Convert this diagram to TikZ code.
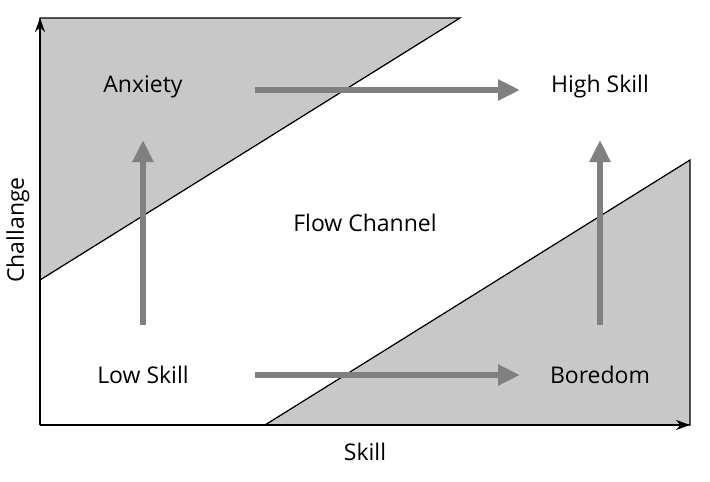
\documentclass[tikz,border=0pt]{standalone}
\usepackage{fontspec}
\setmainfont{Open Sans}
\usetikzlibrary{arrows.meta}
\begin{document}
\begin{tikzpicture}[x=1pt,y=-1pt,
  lbl/.style={font=\fontsize{23}{26}\selectfont},
  garrow/.style={draw={rgb,255:red,128;green,128;blue,128},line width=6,-{Triangle[length=22,width=20]}},
  axis/.style={line width=2,-{Stealth[length=14,width=10]}},
  zone/.style={fill={rgb,255:red,200;green,200;blue,200},draw=black,line width=1.2}]
\useasboundingbox (0,0) rectangle (710,482);
\fill[zone] (40,18) -- (460,18) -- (40,280) -- cycle;
\fill[zone] (265,425) -- (690,160) -- (690,425) -- cycle;
\draw (40,280) -- (460,18);
\draw (265,425) -- (690,160);
\coordinate (o) at (40,425);
\coordinate (ye) at (40,18);
\coordinate (xe) at (690,425);
\draw[axis] (o) -- (ye);
\draw[axis] (o) -- (xe);
\node[lbl] (anx) at (143,87) {Anxiety};
\node[lbl] (hs) at (600,87) {High Skill};
\node[lbl] (fc) at (365,223) {Flow Channel};
\node[lbl] (ls) at (143,375) {Low Skill};
\node[lbl] (bo) at (600,375) {Boredom};
\node[lbl] (sk) at (365,452) {Skill};
\node[lbl,rotate=90] (ch) at (18,230) {Challange};
\coordinate (a1) at (255,90); \coordinate (a2) at (520,90);
\coordinate (b1) at (255,375); \coordinate (b2) at (520,375);
\coordinate (c1) at (143,325); \coordinate (c2) at (143,140);
\coordinate (d1) at (600,325); \coordinate (d2) at (600,140);
\draw[garrow] (a1) -- (a2);
\draw[garrow] (b1) -- (b2);
\draw[garrow] (c1) -- (c2);
\draw[garrow] (d1) -- (d2);
\end{tikzpicture}
\end{document}
